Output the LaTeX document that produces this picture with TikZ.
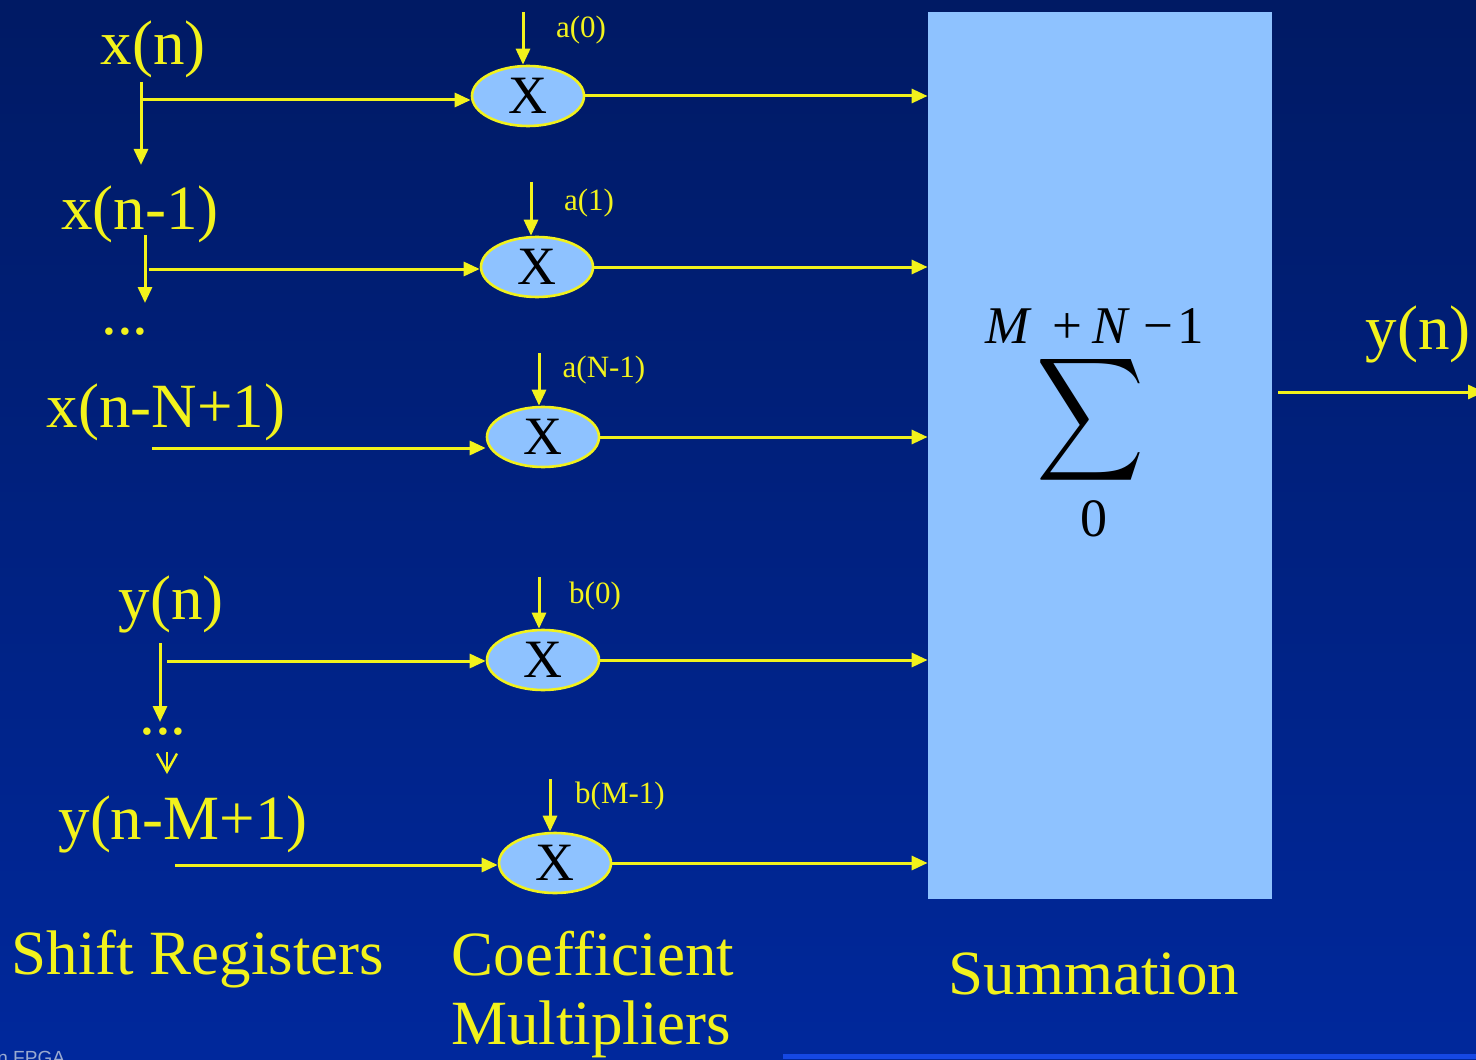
\documentclass[tikz,border=0pt]{standalone}
\usepackage{fontspec}
\setmainfont{Liberation Serif}
\setsansfont{Liberation Sans}
\usepackage{graphicx}
\usetikzlibrary{arrows.meta,shapes.geometric}
\definecolor{bgtop}{HTML}{001A64}
\definecolor{bgbot}{HTML}{00289C}
\definecolor{sig}{HTML}{F2F21C}
\definecolor{cell}{HTML}{8EC2FF}
\definecolor{strip}{HTML}{1548E4}
\definecolor{foot}{HTML}{9AAAD0}

\begin{document}
\begin{tikzpicture}[x=0.5pt,y=-0.5pt,>={Triangle[length=8pt,width=7pt]},
  wire/.style={draw=sig,line width=1.5pt,->},
  big/.style={text=sig,font=\fontsize{31.5}{36}\selectfont,inner sep=0pt,yshift=-2pt},
  coef/.style={text=sig,font=\fontsize{15.5}{18}\selectfont,inner sep=0pt,yshift=-1pt},
  mult/.style={ellipse,draw=sig,line width=1.3pt,fill=cell,minimum width=56pt,
    minimum height=30pt,inner sep=0pt,font=\fontsize{27}{30}\selectfont}]
  \useasboundingbox (0,0) rectangle (1476,1059);
  \fill[top color=bgtop,bottom color=bgbot] (0,0) rectangle (1476,1059);
  \fill[strip] (783,1054) rectangle (1476,1059);
  \node[anchor=base west,inner sep=0pt,text=foot,font=\sffamily\fontsize{9.5}{10}\selectfont] (foot) at (-3,1064) {n FPGA};

  % summation block
  \node[fill=cell,minimum width=172pt,minimum height=443.5pt,inner sep=0pt] (sum) at (1100,455.5) {};
  \node[font=\fontsize{26.5}{30}\selectfont,inner sep=0pt,anchor=base] (upper) at (1095,343)
    {\textit{M}\hspace{0.38em}+\hspace{0.2em}\textit{N}\hspace{0.25em}−\hspace{0.08em}1};
  \node[inner sep=0pt] (sigma) at (1090,420) {\resizebox*{54pt}{69pt}{$\displaystyle\sum$}};
  \node[font=\fontsize{27}{30}\selectfont,inner sep=0pt] (lower) at (1094,519) {0};

  % shift registers
  \node[big] (x0) at (153,45) {x(n)};
  \node[big] (x1) at (140,210) {x(n-1)};
  \node[big] (dx) at (125,328) {...};
  \node[big] (xN) at (166,408) {x(n-N+1)};
  \node[big] (y0) at (171,600) {y(n)};
  \node[big] (dy) at (163,728) {...};
  \node[big] (yM) at (183,820) {y(n-M+1)};

  % coefficient multipliers
  \node[mult] (m1) at (528,96) {X};
  \node[mult] (m2) at (537,267) {X};
  \node[mult] (m3) at (543,437) {X};
  \node[mult] (m4) at (543,660) {X};
  \node[mult] (m5) at (555,863) {X};
  \node[coef] (c1) at (581,28) {a(0)};
  \node[coef] (c2) at (589,201) {a(1)};
  \node[coef] (c3) at (604,368) {a(N-1)};
  \node[coef] (c4) at (595,594) {b(0)};
  \node[coef] (c5) at (620,794) {b(M-1)};
  \coordinate (k1) at (523,12);
  \coordinate (k2) at (531,182);
  \coordinate (k3) at (539,353);
  \coordinate (k4) at (539,577);
  \coordinate (k5) at (550,779);
  \foreach \i in {1,...,5}
    \draw[wire] (k\i) -- (k\i |- m\i.north);

  % taps
  \coordinate (t0) at (141,82);  \coordinate (t0e) at (141,165);
  \coordinate (t1) at (145,235); \coordinate (t1e) at (145,303);
  \coordinate (t4) at (160,643); \coordinate (t4e) at (160,722);
  \coordinate (s1) at (141,100);
  \coordinate (s2) at (149,269);
  \coordinate (s3) at (152,448);
  \coordinate (s4) at (167,661);
  \coordinate (s5) at (175,865);
  \draw[wire] (t0) -- (t0e);
  \draw[wire] (t1) -- (t1e);
  \draw[wire] (t4) -- (t4e);
  \draw[draw=sig,line width=1.2pt,-{Straight Barb[length=9pt,width=10pt]}] (167,752) -- (167,774);
  \foreach \i in {1,...,5}{
    \draw[wire] (s\i) -- (s\i -| m\i.west);
    \draw[wire] (m\i.east) -- (m\i.east -| sum.west);
  }

  % output
  \coordinate (out) at (1278,392);
  \coordinate (oute) at (1484,392);
  \draw[wire] (out) -- (oute);
  \node[big] (yn) at (1418,330) {y(n)};

  % captions
  \node[big] (cap1) at (198,955) {Shift Registers};
  \node[big] (cap2) at (593,950) {Coefficient};
  \node[big] (cap3) at (591,1025) {Multipliers};
  \node[big] (cap4) at (1094,970) {Summation};
\end{tikzpicture}
\end{document}
